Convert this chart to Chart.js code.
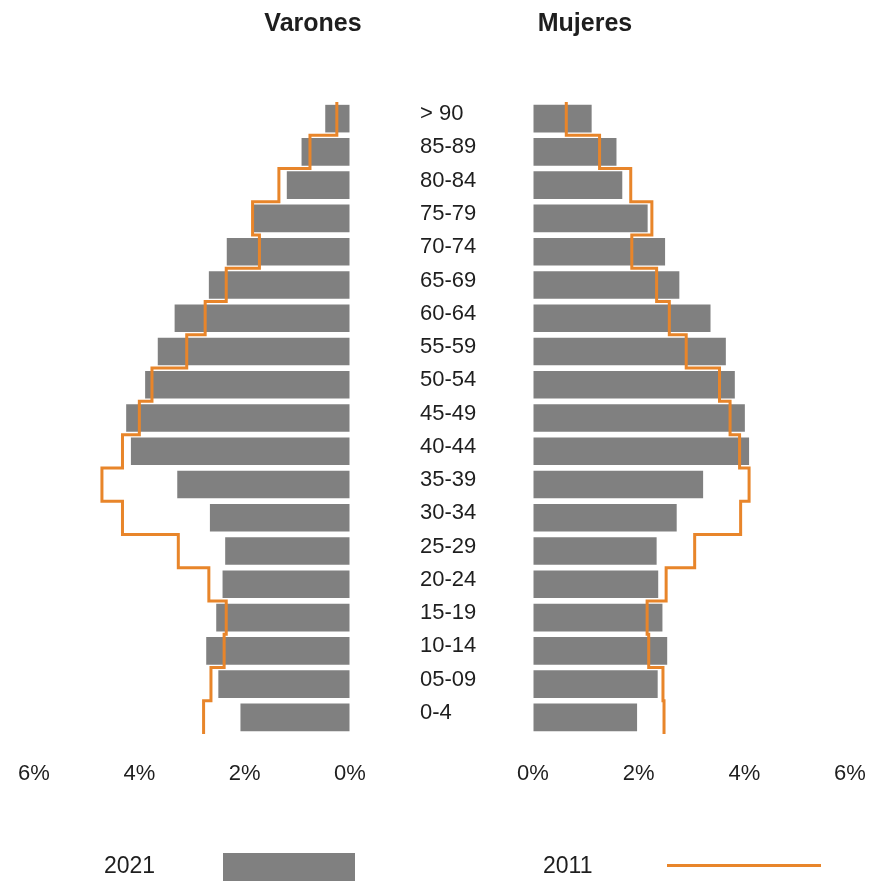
<!DOCTYPE html>
<html>
<head>
<meta charset="utf-8">
<script src="https://cdn.jsdelivr.net/npm/chart.js@4/dist/chart.umd.min.js"></script>
<style>
  html, body { margin: 0; padding: 0; background: #ffffff; }
  #wrap { position: relative; width: 870px; height: 881px; overflow: hidden; font-family: "Liberation Sans", Arial, sans-serif; color: #1e1e1e; }
  canvas { position: absolute; left: 0; top: 0; }
  .title { position: absolute; top: 8px; font-weight: bold; font-size: 25px; transform: translateX(-50%); white-space: nowrap; }
  .leg { position: absolute; font-size: 23px; }
</style>
</head>
<body>
<div id="wrap">
  <canvas id="left" width="870" height="881"></canvas>
  <canvas id="right" width="870" height="881"></canvas>
  <div class="title" style="left:313px">Varones</div>
  <div class="title" style="left:585px">Mujeres</div>
  <div class="leg" style="left:104px; top:852px;">2021</div>
  <div style="position:absolute; left:223px; top:853px; width:132px; height:40px; background:#808080;"></div>
  <div class="leg" style="left:543px; top:852px;">2011</div>
  <div style="position:absolute; left:667px; top:864px; width:154px; height:3px; background:#E8852A;"></div>
</div>
<script>
// Age groups (top to bottom)
const categories = ['> 90','85-89','80-84','75-79','70-74','65-69','60-64','55-59','50-54','45-49','40-44','35-39','30-34','25-29','20-24','15-19','10-14','05-09','0-4'];

// Percent of population, Varones (men)
const varones2021 = [0.47, 0.92, 1.20, 1.83, 2.34, 2.68, 3.33, 3.65, 3.89, 4.25, 4.16, 3.28, 2.66, 2.37, 2.42, 2.54, 2.73, 2.50, 2.08];
const varones2011 = [0.25, 0.76, 1.35, 1.85, 1.72, 2.35, 2.75, 3.10, 3.76, 4.00, 4.32, 4.71, 4.32, 3.26, 2.68, 2.35, 2.39, 2.64, 2.78];

// Percent of population, Mujeres (women)
const mujeres2021 = [1.11, 1.58, 1.69, 2.17, 2.50, 2.77, 3.36, 3.65, 3.82, 4.01, 4.09, 3.22, 2.72, 2.34, 2.37, 2.45, 2.54, 2.36, 1.97];
const mujeres2011 = [0.63, 1.26, 1.85, 2.25, 1.87, 2.34, 2.58, 2.90, 3.53, 3.73, 3.91, 4.09, 3.93, 3.06, 2.52, 2.16, 2.19, 2.46, 2.48];

// Axis ticks
const tickValues = [0, 2, 4, 6];
const axisMax = 6;

const GREY = '#808080';
const ORANGE = '#E8852A';
const FONT = '"Liberation Sans", Arial, sans-serif';

// Build a stepped outline: each age group spans its full band (index-0.5 .. index+0.5)
function stepPoints(values) {
  const pts = [];
  values.forEach((v, i) => {
    pts.push({ x: v, y: i - 0.5 });
    pts.push({ x: v, y: i + 0.5 });
  });
  return pts;
}

function makeChart(id, bars, line, isLeft) {
  const ctx = document.getElementById(id);
  return new Chart(ctx, {
    type: 'bar',
    data: {
      labels: categories,
      datasets: [
        {
          type: 'line',
          label: '2011',
          data: stepPoints(line),
          xAxisID: 'x',
          yAxisID: 'y2',
          borderColor: ORANGE,
          borderWidth: 3,
          pointRadius: 0,
          tension: 0,
          fill: false,
          order: 0
        },
        {
          label: '2021',
          data: bars,
          xAxisID: 'x',
          yAxisID: 'y',
          backgroundColor: GREY,
          borderWidth: 0,
          grouped: false,
          barPercentage: 0.83,
          categoryPercentage: 1.0,
          order: 1
        }
      ]
    },
    options: {
      indexAxis: 'y',
      responsive: false,
      animation: false,
      devicePixelRatio: 1,
      layout: {
        padding: isLeft
          ? { left: 34, right: 520, top: 102, bottom: 87 }
          : { left: 420, right: 20, top: 102, bottom: 87 }
      },
      plugins: { legend: { display: false }, tooltip: { enabled: false }, title: { display: false } },
      scales: {
        x: {
          type: 'linear',
          min: 0,
          max: axisMax,
          reverse: isLeft,
          position: 'bottom',
          grid: { display: true, drawOnChartArea: false, drawTicks: true, tickLength: 27, color: 'rgba(0,0,0,0)' },
          border: { display: false },
          afterBuildTicks: (scale) => { scale.ticks = tickValues.map(v => ({ value: v })); },
          afterFit: (scale) => { scale.height = 60; },
          ticks: {
            padding: 0,
            color: '#1e1e1e',
            font: { family: FONT, size: 22 },
            callback: (v) => v + '%'
          }
        },
        y: {
          type: 'category',
          display: !isLeft,
          position: 'left',
          offset: true,
          grid: { display: false, drawTicks: false },
          border: { display: false },
          afterFit: (scale) => { if (!isLeft) scale.width = 113; },
          ticks: {
            crossAlign: 'far',
            labelOffset: -4.5,
            padding: 0,
            autoSkip: false,
            color: '#1e1e1e',
            font: { family: FONT, size: 22 }
          }
        },
        y2: {
          type: 'linear',
          axis: 'y',
          display: false,
          offset: false,
          grid: { offset: false },
          min: -0.5,
          max: categories.length - 0.5,
          reverse: true
        }
      }
    }
  });
}

makeChart('left', varones2021, varones2011, true);
makeChart('right', mujeres2021, mujeres2011, false);
</script>
</body>
</html>
